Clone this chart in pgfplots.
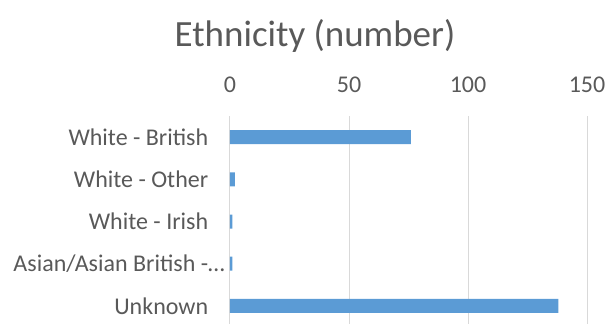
\documentclass[border=0pt]{standalone}
\usepackage{pgfplots}
\pgfplotsset{compat=1.18}
\usepackage{fontspec}
\setmainfont{Carlito}
\definecolor{txt}{HTML}{595959}
\definecolor{gridc}{HTML}{D9D9D9}
\definecolor{barc}{HTML}{5B9BD5}
\begin{document}
\begin{tikzpicture}[x=1pt,y=1pt]
\useasboundingbox (0,0) rectangle (608,324);
\node[text=txt,font=\fontsize{37}{44}\selectfont] at (315,288) {Ethnicity (number)};
\begin{axis}[
  at={(230pt,-3pt)}, anchor=south west,
  scale only axis, width=357pt, height=211pt,
  xbar, bar width=14pt,
  xmin=0, xmax=150,
  ymin=-0.5, ymax=4.5, y dir=reverse,
  axis x line*=top,
  axis line style={draw=none},
  xtick={0,50,100,150},
  ytick={0,1,2,3,4},
  yticklabels={White - British, White - Other, White - Irish, {Asian/Asian British -\rlap{…}}, Unknown},
  xmajorgrids, major grid style={gridc, line width=1pt},
  tick style={draw=none},
  ticklabel style={text=txt, font=\fontsize{24}{28}\selectfont},
  /pgf/number format/assume math mode=true,
  xticklabel style={yshift=20pt},
  yticklabel style={xshift=-14pt},
  clip=false,
]
\addplot[fill=barc, draw=none] coordinates {(76,0) (2,1) (1,2) (1,3) (138,4)};
\end{axis}
\end{tikzpicture}
\end{document}
